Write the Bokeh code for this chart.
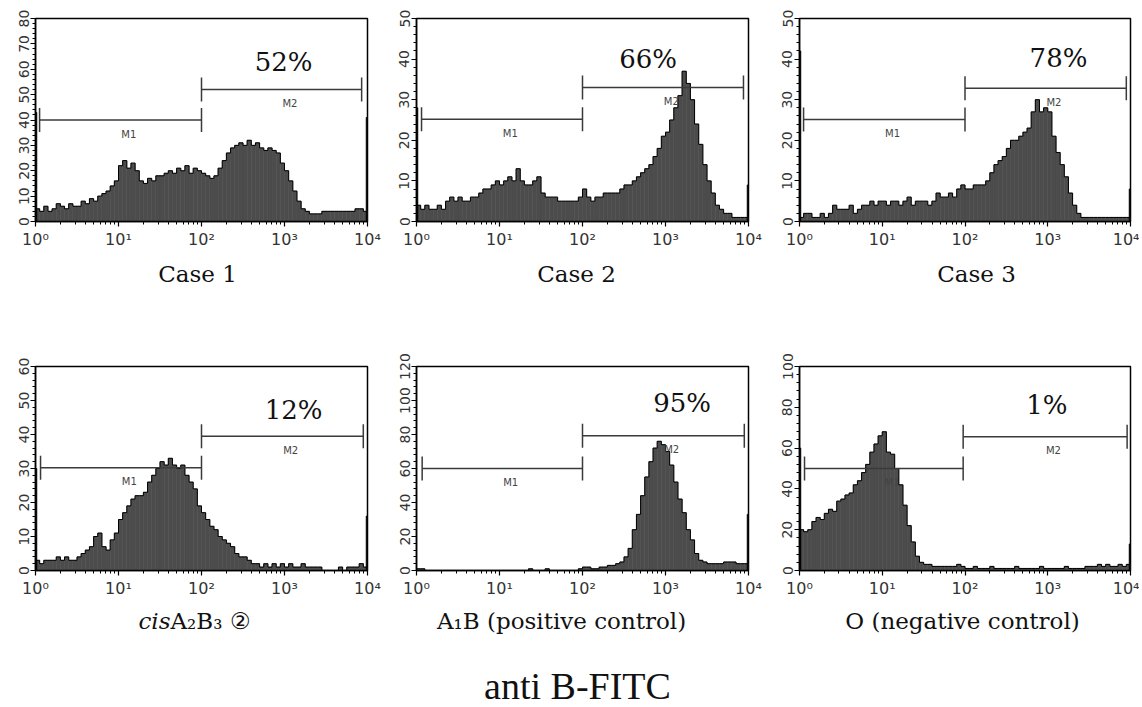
import numpy as np
from bokeh.plotting import figure
from bokeh.models import (Range1d, FixedTicker, SingleIntervalTicker,
                          CustomJSTickFormatter)
from bokeh.layouts import column, row
from bokeh.embed import file_html
from bokeh.resources import INLINE
from bokeh.core.properties import value

# ---------------- data ----------------
bins_per_decade = 20   # histogram channels grouped 20 per decade (10^0 .. 10^4)

case1 = [5,4,6,4,5, 7,6,5,7,6, 6,8,7,9,8, 10,11,12,14,16, 22,24,21,23,20, 16,15,17,16,18,
         18,19,20,19,21, 20,22,19,21,20, 19,18,17,18,21, 24,27,29,30,31, 30,32,30,31,29,
         28,29,28,27,23, 20,16,12,8,5, 4,3,3,3,4, 4,4,4,4,4, 4,4,5,5,4]
case2 = [4,3,4,3,3, 4,3,5,6,5, 6,5,5,6,6, 7,8,8,9,10, 9,10,11,10,13, 10,9,9,10,11,
         7,6,6,6,5, 5,5,5,5,6, 8,6,5,6,6, 7,7,7,7,8, 9,9,10,11,12, 13,14,16,18,21,
         22,25,28,31,37, 34,30,24,19,14, 10,7,4,3,2, 2,1,1,1,1]
case3 = [1,2,2,1,1, 2,1,2,4,3, 3,3,4,2,3, 4,4,5,4,5, 5,4,5,5,4, 5,6,4,5,5,
         5,4,5,7,6, 6,7,6,8,9, 8,8,9,9,9, 10,12,14,15,16, 18,20,20,21,22, 23,27,30,27,28,
         27,21,17,14,11, 7,4,2,1,1, 1,1,1,1,1, 1,1,1,1,1]
cis_a2b3 = [3,2,3,3,3, 4,3,4,3,3, 4,5,6,7,10, 11,7,6,9,11, 15,17,19,21,22, 22,23,26,28,30,
            32,31,33,31,30, 31,28,26,24,19, 17,15,13,12,10, 9,8,7,5,4, 4,3,2,2,1,
            2,1,2,1,2, 1,2,1,1,2, 1,1,1,1,0, 0,0,0,1,0, 1,1,1,2,1]
a1b_pos = [1,1,0,0,0, 0,0,0,0,0, 0,0,0,0,0, 0,0,0,0,0, 0,0,0,0,0, 0,0,1,0,0,
           0,1,0,0,0, 0,0,0,0,1, 2,2,1,1,2, 2,3,3,4,5, 8,13,24,33,44, 55,64,72,76,74,
           70,62,52,42,34, 24,18,10,6,5, 4,4,4,4,5, 5,5,4,4,4]
o_neg = [20,19,20,24,26, 25,28,30,29,34, 35,37,38,42,44, 48,52,58,62,66, 68,58,57,50,42,
         32,22,14,7,4, 3,3,2,2,2, 2,2,2,3,2, 1,1,2,1,1, 1,2,1,1,1, 1,1,2,1,1,
         1,1,1,2,1, 1,1,1,1,2, 1,1,1,1,2, 2,2,3,2,3, 2,2,3,2,3]

histograms = [case1, case2, case3, cis_a2b3, a1b_pos, o_neg]
first_channel = [43, 28, 42, 30, 0, 60]    # pile-up in the first channel
last_channel = [41, 9, 8, 16, 33, 13]      # pile-up in the last channel

y_max = [80, 50, 50, 60, 120, 100]
y_step = [10, 10, 10, 10, 20, 20]

percent_labels = ["52%", "66%", "78%", "12%", "95%", "1%"]
m1_start = [1.12, 1.15, 1.12, 1.15, 1.17, 1.15]
gate_split = [100, 100, 100, 100, 100, 95]
m2_end = [8500, 8700, 8900, 8900, 8900, 9100]
m1_level = [40, 25.2, 25.1, 30.2, 60, 50]
m2_level = [52, 33, 32.8, 39.5, 79.3, 65.6]

panel_titles = ["Case 1", "Case 2", "Case 3", "cis", "A\u2082B\u2083 \u2461",
                "A\u2081B (positive control)", "O (negative control)"]
x_tick_values = [1, 10, 100, 1000, 10000]
overall_title = "anti B-FITC"

# ---------------- styling / layout ----------------
FILL = "#4c4c4c"
GATE = "#3a3a3a"
TXT = "#111111"
pct_pos = [(10**2.99, 63), (10**2.79, 40), (10**3.13, 40.2),
           (10**3.11, 47.3), (10**3.2, 98.4), (10**2.99, 81)]
col_border_left = [35, 25, 26]
col_frame_w = [332, 332, 331]
col_border_right = [24, 25, 9]
row_height = [251, 300]
row_border_top = [18, 66]
row_border_bottom = [28, 28]
TOTAL_W = 1140

minor_x = [m * 10**d for d in range(4) for m in range(2, 10)]


def make_panel(k):
    r, c = divmod(k, 3)
    w = col_border_left[c] + col_frame_w[c] + col_border_right[c]
    p = figure(width=w, height=row_height[r], x_axis_type="log",
               x_range=Range1d(1, 10000), y_range=Range1d(0, y_max[k]),
               toolbar_location=None, output_backend="svg",
               min_border_left=col_border_left[c], min_border_right=col_border_right[c],
               min_border_top=row_border_top[r], min_border_bottom=row_border_bottom[r])
    p.xgrid.visible = False
    p.ygrid.visible = False
    p.outline_line_color = "black"
    p.outline_line_width = 1.5
    p.background_fill_color = "white"
    p.border_fill_color = "white"

    counts = np.array(histograms[k], dtype=float)
    n = len(counts)
    edges = 10 ** (np.arange(n + 1) / bins_per_decade)
    p.quad(left=edges[:-1], right=edges[1:], bottom=0, top=counts,
           fill_color=FILL, line_color=FILL, line_width=0.6)
    p.step(x=np.append(edges[:-1], edges[-1]), y=np.append(counts, counts[-1]),
           mode="after", line_color="black", line_width=1)
    ch = 10 ** (4 / 256)
    p.quad(left=[1, 10000 / ch], right=[ch, 10000], bottom=0,
           top=[first_channel[k], last_channel[k]],
           fill_color="black", line_color="black", line_width=0.8)

    # gates M1 / M2
    p.segment(x0=[m1_start[k], gate_split[k]], y0=[m1_level[k], m2_level[k]],
              x1=[gate_split[k], m2_end[k]], y1=[m1_level[k], m2_level[k]],
              line_color=GATE, line_width=1.5)
    p.scatter(x=[m1_start[k], gate_split[k], gate_split[k], m2_end[k]],
              y=[m1_level[k], m1_level[k], m2_level[k], m2_level[k]],
              marker="dash", size=24, angle=np.pi / 2,
              line_color=GATE, line_width=1.5)
    lab_x = [10 ** ((np.log10(m1_start[k]) + np.log10(gate_split[k])) / 2 + 0.1),
             10 ** ((np.log10(gate_split[k]) + np.log10(m2_end[k])) / 2 + 0.1)]
    p.text(x=lab_x, y=[m1_level[k], m2_level[k]], text=["M1", "M2"],
           text_align="center", text_baseline="middle", y_offset=14,
           text_font=value("DejaVu Sans"), text_font_size="10px", text_color="#444444")

    px, py = pct_pos[k]
    p.text(x=[px], y=[py], text=[percent_labels[k]], text_align="center",
           text_baseline="middle", text_font=value("DejaVu Serif"),
           text_font_size="26px", text_color=TXT)

    # axes
    p.xaxis.ticker = FixedTicker(ticks=x_tick_values, minor_ticks=minor_x)
    p.xaxis.formatter = CustomJSTickFormatter(code="""
        const sup = ["\u2070", "\u00b9", "\u00b2", "\u00b3", "\u2074"];
        const e = Math.round(Math.log10(tick));
        return "10" + sup[e];
    """)
    p.yaxis.ticker = SingleIntervalTicker(interval=y_step[k], num_minor_ticks=5)
    p.yaxis.major_label_orientation = "vertical"
    for ax in (p.xaxis[0], p.yaxis[0]):
        ax.axis_line_color = "black"
        ax.axis_line_width = 1.5
        ax.major_tick_line_color = "black"
        ax.minor_tick_line_color = "black"
        ax.major_tick_line_width = 1.2
        ax.minor_tick_line_width = 1
        ax.major_tick_in = 0
        ax.minor_tick_in = 0
        ax.major_tick_out = 5
        ax.minor_tick_out = 3
        ax.major_label_text_font = "DejaVu Sans"
        ax.major_label_text_color = "#333333"
    p.xaxis.major_label_text_font_size = "16px"
    p.xaxis.major_label_standoff = 3
    p.yaxis.major_label_text_font_size = "14px"
    p.yaxis.major_label_standoff = 2
    return p


def caption_figure(height):
    f = figure(width=TOTAL_W, height=height, x_range=Range1d(0, TOTAL_W),
               y_range=Range1d(0, height), toolbar_location=None,
               output_backend="svg", min_border=0,
               x_axis_location=None, y_axis_location=None)
    f.outline_line_color = None
    f.xgrid.visible = False
    f.ygrid.visible = False
    return f


panels = [make_panel(k) for k in range(6)]

CAP = dict(text_baseline="middle", text_font=value("DejaVu Serif"),
           text_font_size="23px", text_color=TXT)

cap1 = caption_figure(49)
cap1.text(x=[197, 576, 976], y=[27, 27, 27], text=panel_titles[:3],
          text_align="center", **CAP)

cap2 = caption_figure(105)
cap2.text(x=[170], y=[85], text=[panel_titles[3]], text_align="right",
          text_font_style="italic", **CAP)
cap2.text(x=[170], y=[85], text=[panel_titles[4]], text_align="left", **CAP)
cap2.text(x=[561, 962], y=[85, 85], text=panel_titles[5:], text_align="center", **CAP)
cap2.text(x=[577], y=[20], text=[overall_title], text_align="center",
          text_baseline="middle", text_font=value("Liberation Serif"),
          text_font_size="38px", text_color=TXT)

layout = column(row(*panels[:3]), cap1, row(*panels[3:]), cap2)
open("out.html", "w").write(file_html(layout, INLINE))
